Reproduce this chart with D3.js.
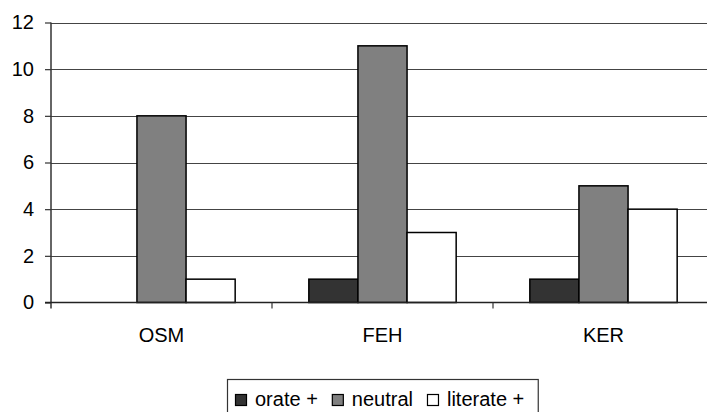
<!DOCTYPE html>
<html>
<head>
<meta charset="utf-8">
<script src="https://cdn.jsdelivr.net/npm/d3@7"></script>
<style>
  body { margin: 0; background: #fff; }
  svg { display: block; font-family: "Liberation Sans", Arial, sans-serif; }
</style>
</head>
<body>
<div id="chart"></div>
<script>
const categories = ["OSM", "FEH", "KER"];
const seriesNames = ["orate +", "neutral", "literate +"];
const orate = [0, 1, 1];
const neutral = [8, 11, 5];
const literate = [1, 3, 4];
const yTicks = [0, 2, 4, 6, 8, 10, 12];

const colors = ["#333333", "#808080", "#ffffff"];
const series = [orate, neutral, literate];

const W = 707, H = 412;
const plotLeft = 51, plotTop = 22.5, plotBottom = 302.5;
const bandW = 221;

const svg = d3.select("#chart").append("svg")
  .attr("width", W).attr("height", H);

const x = d3.scaleBand()
  .domain(categories)
  .range([plotLeft, plotLeft + bandW * 3]);

const inner = d3.scaleBand()
  .domain(d3.range(series.length))
  .range([0, bandW])
  .paddingInner(0)
  .paddingOuter(0.75);

const y = d3.scaleLinear().domain([0, 12]).range([plotBottom, plotTop]);

// gridlines
svg.append("g")
  .selectAll("line")
  .data(yTicks.filter(d => d > 0))
  .enter()
  .append("line")
  .attr("x1", plotLeft).attr("x2", W)
  .attr("y1", d => Math.round(y(d)) + 0.5)
  .attr("y2", d => Math.round(y(d)) + 0.5)
  .attr("stroke", "#444")
  .attr("stroke-width", 1.2);

// bars
series.forEach((vals, i) => {
  svg.append("g")
    .selectAll("rect")
    .data(vals.map((v, j) => ({ v, c: categories[j] })).filter(d => d.v > 0))
    .enter()
    .append("rect")
    .attr("x", d => x(d.c) + inner(i))
    .attr("y", d => y(d.v))
    .attr("width", inner.bandwidth())
    .attr("height", d => y(0) - y(d.v))
    .attr("fill", colors[i])
    .attr("stroke", "#000")
    .attr("stroke-width", 1.5);
});

// y axis
const yAxis = svg.append("g")
  .attr("transform", `translate(${plotLeft},0)`)
  .call(d3.axisLeft(y).tickValues(yTicks).tickSize(6).tickPadding(11));
yAxis.select(".domain").attr("d", `M0,${plotTop}V${plotBottom + 6}`)
  .attr("stroke", "#333").attr("stroke-width", 1.5);
yAxis.selectAll("line").attr("stroke", "#333").attr("stroke-width", 1.2);
yAxis.selectAll("text").attr("font-size", 20).attr("fill", "#000")
  .attr("font-family", "Liberation Sans, Arial, sans-serif");

// x axis
const xAxis = svg.append("g")
  .attr("transform", `translate(0,${plotBottom})`);
xAxis.append("line")
  .attr("x1", plotLeft - 6).attr("x2", W)
  .attr("stroke", "#222").attr("stroke-width", 1.5);
xAxis.selectAll(".tk")
  .data(categories)
  .enter()
  .append("line")
  .attr("class", "tk")
  .attr("x1", d => x(d) + bandW).attr("x2", d => x(d) + bandW)
  .attr("y1", 0).attr("y2", 6)
  .attr("stroke", "#333").attr("stroke-width", 1.2);
xAxis.selectAll("text")
  .data(categories)
  .enter()
  .append("text")
  .attr("x", d => x(d) + bandW / 2)
  .attr("y", 39.5)
  .attr("text-anchor", "middle")
  .attr("font-size", 20)
  .text(d => d);

// legend
const legend = svg.append("g");
const legendBox = legend.append("rect")
  .attr("x", 227.5).attr("y", 379.5)
  .attr("height", 40)
  .attr("fill", "#fff")
  .attr("stroke", "#333").attr("stroke-width", 1.2);
let lx = 235;
seriesNames.forEach((name, i) => {
  legend.append("rect")
    .attr("x", lx + 0.5).attr("y", 394.5)
    .attr("width", 11).attr("height", 11)
    .attr("fill", colors[i])
    .attr("stroke", "#000").attr("stroke-width", 1.2);
  const t = legend.append("text")
    .attr("x", lx + 20).attr("y", 406)
    .attr("font-size", 20)
    .text(name);
  lx = lx + 20 + t.node().getComputedTextLength() + 14;
});
legendBox.attr("width", lx - 227.5);
</script>
</body>
</html>
